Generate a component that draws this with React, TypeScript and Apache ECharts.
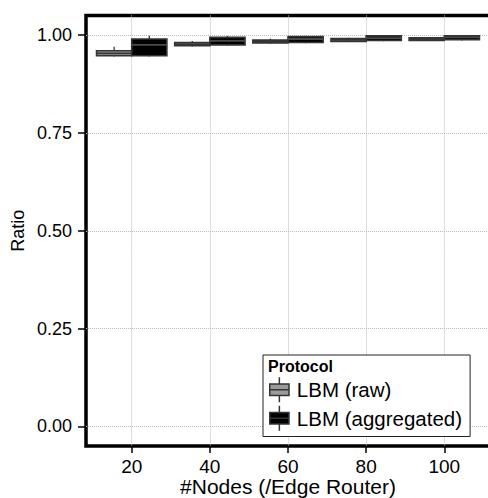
import React, { useEffect, useRef } from "react";
import * as echarts from "echarts";

// ---- data ----
const nodes = [20, 40, 60, 80, 100];
const seriesNames = ["LBM (raw)", "LBM (aggregated)"];
// [min, Q1, median, Q3, max]
const rawStats = [
  [0.945, 0.947, 0.953, 0.96, 0.97],
  [0.971, 0.973, 0.977, 0.981, 0.985],
  [0.978, 0.98, 0.984, 0.987, 0.991],
  [0.982, 0.984, 0.988, 0.991, 0.993],
  [0.985, 0.986, 0.99, 0.993, 0.995],
];
const aggStats = [
  [0.945, 0.947, 0.975, 0.99, 0.998],
  [0.973, 0.975, 0.985, 0.994, 0.998],
  [0.979, 0.981, 0.99, 0.996, 0.998],
  [0.984, 0.986, 0.992, 0.998, 0.999],
  [0.986, 0.988, 0.994, 0.998, 0.999],
];
const yTicks = [0, 0.25, 0.5, 0.75, 1.0];
const xTicks = [20, 40, 60, 80, 100];

const DODGE_WIDTH = 18; // total dodge width in x units
const BOX_W = DODGE_WIDTH / 2;
const FONT = '"Liberation Sans", Arial, Helvetica, sans-serif';

const RAW_FILL = "#9a9a9a";
const AGG_FILL = "#000000";
const STROKE = "#353535";

const ICON =
  "path://M0,7 L20,7 L20,19 L0,19 Z M10,0 L10,7 M10,19 L10,26 M0,13 L20,13";

function makeRender(fill: string, stroke: string, median: string) {
  return (params: any, api: any) => {
    const x = api.value(0);
    const w = api.size([BOX_W, 0])[0];
    const pMin = api.coord([x, api.value(1)]);
    const pQ1 = api.coord([x, api.value(2)]);
    const pMed = api.coord([x, api.value(3)]);
    const pQ3 = api.coord([x, api.value(4)]);
    const pMax = api.coord([x, api.value(5)]);
    const left = pQ1[0] - w / 2;
    return {
      type: "group",
      children: [
        {
          type: "line",
          shape: { x1: pMax[0], y1: pMax[1], x2: pQ3[0], y2: pQ3[1] },
          style: { stroke, lineWidth: 1.3 },
        },
        {
          type: "line",
          shape: { x1: pMin[0], y1: pMin[1], x2: pQ1[0], y2: pQ1[1] },
          style: { stroke, lineWidth: 1.3 },
        },
        {
          type: "rect",
          shape: { x: left, y: pQ3[1], width: w, height: pQ1[1] - pQ3[1] },
          style: { fill, stroke, lineWidth: 1.6 },
        },
        {
          type: "line",
          shape: { x1: left, y1: pMed[1], x2: left + w, y2: pMed[1] },
          style: { stroke: median, lineWidth: 1.8 },
        },
      ],
    };
  };
}

export default function App() {
  const ref = useRef<HTMLDivElement>(null);
  useEffect(() => {
    if (!ref.current) return;
    const chart = echarts.init(ref.current, undefined, { renderer: "svg" });
    const rawData = nodes.map((n, i) => [n - BOX_W / 2, ...rawStats[i]]);
    const aggData = nodes.map((n, i) => [n + BOX_W / 2, ...aggStats[i]]);
    chart.setOption({
      animation: false,
      backgroundColor: "#ffffff",
      grid: {
        left: 86,
        top: 15.5,
        width: 404,
        bottom: 52,
        show: true,
        borderColor: "#000",
        borderWidth: 3.5,
        backgroundColor: "transparent",
        containLabel: false,
        outerBoundsMode: "none",
      },
      xAxis: {
        type: "value",
        min: 8.3,
        max: 111.7,
        name: "#Nodes (/Edge Router)",
        nameLocation: "middle",
        nameGap: 31,
        nameMoveOverlap: false,
        nameTextStyle: {
          fontFamily: FONT,
          fontSize: 21,
          lineHeight: 18,
          color: "#000",
          verticalAlign: "top",
        },
        axisLine: { show: false, onZero: false },
        axisTick: {
          show: true,
          length: 7,
          lineStyle: { color: "#000", width: 1.5 },
          customValues: xTicks,
        },
        axisLabel: {
          customValues: xTicks,
          margin: 12,
          fontFamily: FONT,
          fontSize: 19,
          lineHeight: 16,
          color: "#000",
        },
        splitLine: {
          show: true,
          lineStyle: { type: "dotted", color: "#bdbdbd", width: 1 },
        },
      },
      yAxis: {
        type: "value",
        min: -0.05,
        max: 1.05,
        name: "Ratio",
        nameLocation: "middle",
        nameGap: 59,
        nameMoveOverlap: false,
        nameTextStyle: { fontFamily: FONT, fontSize: 18, color: "#000" },
        axisLine: { show: false, onZero: false },
        axisTick: {
          show: true,
          length: 8,
          lineStyle: { color: "#000", width: 1.5 },
          customValues: yTicks,
        },
        axisLabel: {
          customValues: yTicks,
          margin: 14,
          fontFamily: FONT,
          fontSize: 18,
          color: "#000",
          formatter: (v: number) => v.toFixed(2),
        },
        splitLine: {
          show: true,
          lineStyle: { type: "dotted", color: "#bdbdbd", width: 1 },
        },
      },
      legend: {
        orient: "vertical",
        left: 263,
        top: 355,
        padding: [21.5, 8, 5, 6],
        itemGap: 2,
        itemWidth: 25,
        itemHeight: 25,
        backgroundColor: "#fff",
        borderColor: "#222",
        borderWidth: 1,
        textStyle: { fontFamily: FONT, fontSize: 20.5, color: "#000" },
        data: [
          {
            name: seriesNames[0],
            icon: ICON,
            itemStyle: { color: RAW_FILL, borderColor: STROKE, borderWidth: 1.5 },
          },
          {
            name: seriesNames[1],
            icon: ICON,
            itemStyle: { color: AGG_FILL, borderColor: STROKE, borderWidth: 1.5 },
          },
        ],
      },
      graphic: [
        {
          type: "text",
          left: 268,
          top: 358,
          z: 100,
          style: {
            text: "Protocol",
            font: `bold 16px ${FONT}`,
            fill: "#000",
          },
        },
      ],
      series: [
        {
          name: seriesNames[0],
          type: "custom",
          renderItem: makeRender(RAW_FILL, STROKE, STROKE),
          encode: { x: 0, y: [1, 2, 3, 4, 5] },
          itemStyle: { color: RAW_FILL },
          data: rawData,
        },
        {
          name: seriesNames[1],
          type: "custom",
          renderItem: makeRender(AGG_FILL, STROKE, "#4a4a4a"),
          encode: { x: 0, y: [1, 2, 3, 4, 5] },
          itemStyle: { color: AGG_FILL },
          data: aggData,
        },
      ],
    });
    return () => chart.dispose();
  }, []);
  return (
    <div
      ref={ref}
      style={{ position: "fixed", left: 0, top: 0, width: 488, height: 498 }}
    />
  );
}
